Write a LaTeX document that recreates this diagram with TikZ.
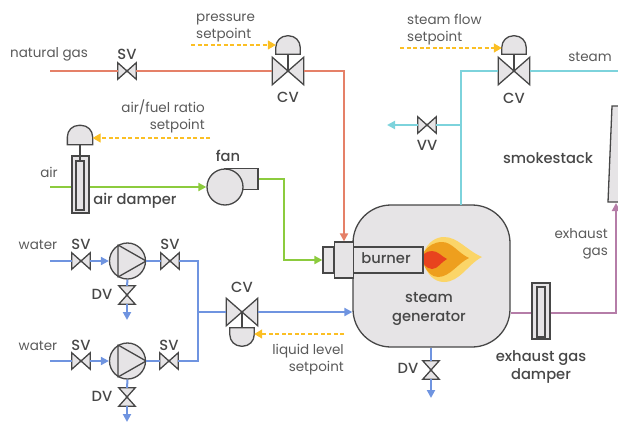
\documentclass[tikz,border=0pt]{standalone}
\usepackage{fontspec}
\setmainfont{Poppins}
\newfontfamily\medFont{Poppins Medium}
\usetikzlibrary{arrows.meta}
\definecolor{gasLine}{HTML}{E58068}
\definecolor{airLine}{HTML}{8CCB3E}
\definecolor{waterLine}{HTML}{6F94E0}
\definecolor{steamLine}{HTML}{7DD3DC}
\definecolor{exhaustLine}{HTML}{B57DA8}
\definecolor{setLine}{HTML}{FBBF24}
\definecolor{shapeFill}{HTML}{E6E4E6}
\definecolor{shapeDraw}{HTML}{474747}
\definecolor{labelText}{HTML}{5A5A5A}
\definecolor{flameOuter}{HTML}{FBD568}
\definecolor{flameMiddle}{HTML}{EE9F1E}
\definecolor{flameInner}{HTML}{E8431E}

\begin{document}
\begin{tikzpicture}
[x=1pt,y=-1pt,%
  lineDecorate/.style={line width=2pt},%
  flowTip/.style={-{Triangle[length=8pt,width=8pt]}},%
  setDecorate/.style={setLine,line width=1.3pt,dash pattern=on 4pt off 2.5pt,-{Triangle[length=8pt,width=9pt]}},%
  shapeDecorate/.style={draw=shapeDraw,fill=shapeFill,line width=1.3pt},%
  boxDecorate/.style={shape=rectangle,inner sep=0pt,shapeDecorate},%
  valveDecorate/.style={shape=rectangle,inner sep=0pt,minimum width=18pt,minimum height=16pt},%
  labelDecorate/.style={text=labelText,font=\fontsize{13.5}{14}\selectfont,inner sep=0pt},%
  boldDecorate/.style={text=shapeDraw,font=\fontsize{14.7}{15}\medFont,inner sep=0pt}]
\useasboundingbox (0,0) rectangle (618,423);
\clip (0,0) rectangle (618,423);
%% smokestack and steam generator
\draw[shapeDecorate] (612,106) -- (608,202) -- (630,202) -- (630,106) -- cycle;
\node[boxDecorate,rounded corners=38pt,minimum width=157pt,minimum height=142pt] (generator) at (431.5,276) {};
%% flame
\fill[flameOuter] (424,252) .. controls (428,242) and (436,237) .. (444,237) .. controls (458,237) and (466,250) .. (482,257) .. controls (468,264) and (460,282) .. (444,282) .. controls (434,282) and (427,274) .. (424,264) -- cycle;
\fill[flameMiddle] (424,252) .. controls (428,246) and (434,242) .. (442,242) .. controls (452,242) and (458,253) .. (469,258) .. controls (458,263) and (450,277) .. (438,277) .. controls (432,277) and (427,272) .. (424,265) -- cycle;
\fill[flameInner] (424,254) .. controls (426,252) and (429,251) .. (432,251) .. controls (438,251) and (441,256) .. (447,259) .. controls (441,262) and (438,269) .. (432,269) .. controls (429,269) and (426,267) .. (424,264) -- cycle;
%% burner
\node[boxDecorate,minimum width=70pt,minimum height=26pt] (burner) at (388,260) {};
\node[boxDecorate,minimum width=11pt,minimum height=26pt] (burnerBack) at (328.5,260) {};
\node[boxDecorate,minimum width=19pt,minimum height=36pt] (burnerCollar) at (344,260) {};
%% valves
\foreach \nodename/\x/\y in {
  gasSV/127/71, airSVa/81/261, outSVa/170/261, airSVb/81/361, outSVb/169/361, steamVV/427/125}
{
  \node[valveDecorate] (\nodename) at (\x,\y) {};
  \draw[shapeDecorate] (\nodename.north west) -- (\nodename.south east) -- (\nodename.north east) -- (\nodename.south west) -- cycle;
}
\foreach \nodename/\x/\y in {
  drainA/127/295, drainB/127/397, drainC/431/370}
{
  \node[valveDecorate,minimum width=16pt,minimum height=18pt] (\nodename) at (\x,\y) {};
  \draw[shapeDecorate] (\nodename.north west) -- (\nodename.north east) -- (\nodename.south west) -- (\nodename.south east) -- cycle;
}
%% control valves and their actuators
\foreach \nodename/\x/\y/\ax in {
  gasCV/288/71/45, steamCV/514/71/45, waterCV/242/312/337}
{
  \node[valveDecorate,minimum width=31pt,minimum height=27pt] (\nodename) at (\x,\y) {};
  \node[shape=rectangle,inner sep=0pt,minimum width=24pt,minimum height=18pt] (\nodename Act) at (\x,\ax) {};
  \draw[shapeDraw,line width=1.5pt] (\nodename Act.center) -- (\nodename.center);
  \draw[shapeDecorate] (\nodename.north west) -- (\nodename.south east) -- (\nodename.north east) -- (\nodename.south west) -- cycle;
}
\foreach \nodename in {gasCV,steamCV}
{
  \draw[shapeDecorate,rounded corners=0pt] (\nodename Act.south west) -- (\nodename Act.south east) [rounded corners=11.5pt] -- (\nodename Act.north east) -- (\nodename Act.north west) [rounded corners=0pt] -- (\nodename Act.south west) -- cycle;
}
\draw[shapeDecorate,rounded corners=0pt] (waterCVAct.north west) -- (waterCVAct.north east) [rounded corners=11.5pt] -- (waterCVAct.south east) -- (waterCVAct.south west) [rounded corners=0pt] -- (waterCVAct.north west) -- cycle;
%% air damper and exhaust damper
\node[boxDecorate,minimum width=17pt,minimum height=57pt] (airDamper) at (80.5,184.5) {};
\node[boxDecorate,minimum width=8pt,minimum height=49pt] (airInner) at (80,185.5) {};
\node[boxDecorate,minimum width=24pt,minimum height=18pt,draw=none,fill=none] (airAct) at (80,135) {};
\draw[shapeDraw,line width=1.5pt] (airAct.south) -- (airInner.north);
\draw[shapeDecorate] (airAct.south west) -- (airAct.south east) [rounded corners=11.5pt] -- (airAct.north east) -- (airAct.north west) [rounded corners=0pt] -- (airAct.south west) -- cycle;
\node[boxDecorate,minimum width=18pt,minimum height=56pt] (exhaustDamper) at (541,311) {};
\node[boxDecorate,minimum width=8pt,minimum height=50pt] (exhaustInner) at (541,312) {};
%% fan and pumps
\node[boxDecorate,minimum width=33pt,minimum height=21pt] (fanOut) at (241.5,179) {};
\node[shape=circle,inner sep=0pt,minimum size=36pt,shapeDecorate] (fan) at (225,187) {};
\foreach \nodename/\y in {pumpA/261, pumpB/361}
{
  \node[shape=circle,inner sep=0pt,minimum size=36pt,shapeDecorate] (\nodename) at (127.5,\y) {};
  \draw[shapeDraw,line width=1.3pt,line join=round] (118,\y-16) -- (\nodename.east) -- (118,\y+16) -- cycle;
}
%% free ends of the lines
\foreach \nodename/\x/\y in {
  gasStart/50/71, airStart/50/187, waterStartA/50/261, waterStartB/50/361,
  waterTee/198/312, steamStart/461/205, steamTee/461/125, steamEnd/618/71,
  ventEnd/387/125, drainEndA/127/320, drainEndB/127/422, drainEndC/431/398,
  exhaustTurn/616/313, stackBase/616/203,
  pressureStart/191/45, ratioStart/210/138, flowStart/400/48, levelStart/344/334}
{
  \coordinate (\nodename) at (\x,\y);
}
%% connect the nodes
\draw[lineDecorate,gasLine] (gasStart) -- (gasSV.west);
\draw[lineDecorate,gasLine] (gasSV.east) -- (gasCV.west);
\draw[lineDecorate,gasLine,flowTip] (gasCV.east) -| (burnerCollar.north);
\draw[lineDecorate,airLine] (airStart) -- (airDamper.west |- airStart);
\draw[lineDecorate,airLine,flowTip] (airDamper.east |- airStart) -- (fan.west);
\draw[lineDecorate,airLine,flowTip] (fanOut.east) -- (284,179) |- (burnerBack.west);
\draw[lineDecorate,waterLine] (waterStartA) -- (airSVa.west);
\draw[lineDecorate,waterLine,flowTip] (airSVa.east) -- (pumpA.west);
\draw[lineDecorate,waterLine] (pumpA.east) -- (outSVa.west);
\draw[lineDecorate,waterLine] (outSVa.east) -| (waterTee);
\draw[lineDecorate,waterLine] (waterStartB) -- (airSVb.west);
\draw[lineDecorate,waterLine,flowTip] (airSVb.east) -- (pumpB.west);
\draw[lineDecorate,waterLine] (pumpB.east) -- (outSVb.west);
\draw[lineDecorate,waterLine] (outSVb.east) -| (waterTee);
\draw[lineDecorate,waterLine] (waterTee) -- (waterCV.west);
\draw[lineDecorate,waterLine,flowTip] (waterCV.east) -- (generator.west |- waterCV);
\draw[lineDecorate,waterLine] (pumpA.south) -- (drainA.north);
\draw[lineDecorate,waterLine,flowTip] (drainA.south) -- (drainEndA);
\draw[lineDecorate,waterLine] (pumpB.south) -- (drainB.north);
\draw[lineDecorate,waterLine,flowTip] (drainB.south) -- (drainEndB);
\draw[lineDecorate,waterLine] (generator.south -| drainC) -- (drainC.north);
\draw[lineDecorate,waterLine,flowTip] (drainC.south) -- (drainEndC);
\draw[lineDecorate,steamLine] (steamStart) |- (steamCV.west);
\draw[lineDecorate,steamLine] (steamCV.east) -- (steamEnd);
\draw[lineDecorate,steamLine] (steamTee) -- (steamVV.east);
\draw[lineDecorate,steamLine,flowTip] (steamVV.west) -- (ventEnd);
\draw[lineDecorate,exhaustLine] (generator.east |- exhaustTurn) -- (exhaustDamper.west |- exhaustTurn);
\draw[lineDecorate,exhaustLine,flowTip] (exhaustDamper.east |- exhaustTurn) -- (exhaustTurn) -- (stackBase);
%% setpoint lines
\draw[setDecorate] (pressureStart) -- (gasCVAct.west |- pressureStart);
\draw[setDecorate] (ratioStart) -- (airAct.east |- ratioStart);
\draw[setDecorate] (flowStart) -- (steamCVAct.west |- flowStart);
\draw[setDecorate] (levelStart) -- (waterCVAct.east |- levelStart);
%% plain labels
\foreach \nodename/\x/\y/\lab in {
  gasText/49/54/natural gas, airText/49/172/air, waterTextA/38/245/water, waterTextB/38/346/water,
  steamText/590/57/steam}
{
  \node[labelDecorate] (\nodename) at (\x,\y) {\lab};
}
\node[labelDecorate,align=left,anchor=north west] (pressureText) at (196,14) {pressure\\[3pt]setpoint};
\node[labelDecorate,align=left,anchor=north west] (flowText) at (407,14) {steam flow\\[3pt]setpoint};
\node[labelDecorate,align=right,anchor=north east] (ratioText) at (205,100) {air/fuel ratio\\[3pt]setpoint};
\node[labelDecorate,align=right,anchor=north east] (levelText) at (344,344) {liquid level\\[3pt]setpoint};
\node[labelDecorate,align=right,anchor=north east] (exhaustText) at (608,228) {exhaust\\[3pt]gas};
%% bold labels
\foreach \nodename/\x/\y/\lab in {
  svA/127/54/SV, svB/81/244/SV, svC/170/244/SV, svD/81/345/SV, svE/169/345/SV,
  cvA/288/97/CV, cvB/514/98/CV, cvC/242/287/CV, vvA/427/145/VV,
  dvA/102/294/DV, dvB/102/396/DV, dvC/408/368/DV,
  fanText/228/156/fan, damperText/135/201/air damper, burnerText/386/258/burner,
  stackText/548/158/smokestack}
{
  \node[boldDecorate] (\nodename) at (\x,\y) {\lab};
}
\node[boldDecorate,align=center] (generatorText) at (429,308.5) {steam\\[4pt]generator};
\node[boldDecorate,align=center] (exhaustDamperText) at (541,366.5) {exhaust gas\\[3pt]damper};
\end{tikzpicture}
\end{document}
